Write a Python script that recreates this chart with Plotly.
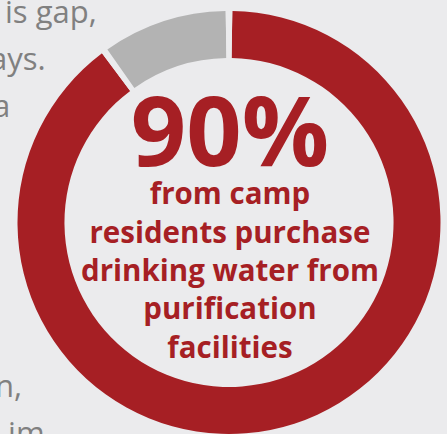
import plotly.graph_objects as go

# Data
categories = ["Purchase from purification facilities", "Other sources"]
shares = [90, 10]
headline = "90%"
caption_lines = ["from camp", "residents purchase", "drinking water from", "purification", "facilities"]
body_fragments = ["is gap,", "ays.", "a", "n,", "n im-"]

# Style
RED = "#a61f24"
GRAY = "#b3b3b3"
BG = "#ebebed"
TEXT_GRAY = "#808080"
W, H = 447, 434
GAP = 0.5  # separator share between slices

# Build pie with thin background-coloured separators
labels, values, colors = [], [], []
for cat, v, c in zip(categories, shares, [RED, GRAY]):
    labels += [cat, cat + " sep"]
    values += [v - GAP, GAP]
    colors += [c, BG]

fig = go.Figure(go.Pie(
    labels=labels, values=values, sort=False, direction="clockwise",
    rotation=1.8 * GAP, hole=0.778,
    marker=dict(colors=colors, line=dict(width=0)),
    textinfo="none", hoverinfo="skip", showlegend=False,
    domain=dict(x=[17.5 / W, 440.5 / W], y=[0, 423 / H]),
))

def py(p):
    return 1 - p / H

ann = []
center_text = "<span style='font-size:97px'>" + headline + "</span><br>" + "<br>".join(caption_lines)
ann.append(dict(text=center_text, x=230 / W, y=py(214), xref="paper", yref="paper",
                xanchor="center", yanchor="middle", align="center", showarrow=False,
                font=dict(family="Open Sans", size=29.5, color=RED, weight="bold"),
                borderpad=0, borderwidth=0))
body_right = [97, 46, 10, 22, 55]
body_center = [11, 58, 105, 385, 432]
for t, xr, yc in zip(body_fragments, body_right, body_center):
    ann.append(dict(text=t, x=xr / W, y=py(yc), xref="paper", yref="paper",
                    xanchor="right", yanchor="middle", showarrow=False,
                    font=dict(family="Open Sans", size=31, color=TEXT_GRAY),
                    borderpad=0, borderwidth=0))

fig.update_layout(
    width=W, height=H, margin=dict(l=0, r=0, t=0, b=0),
    paper_bgcolor=BG, plot_bgcolor=BG, annotations=ann,
)
fig.write_html("out.html")
